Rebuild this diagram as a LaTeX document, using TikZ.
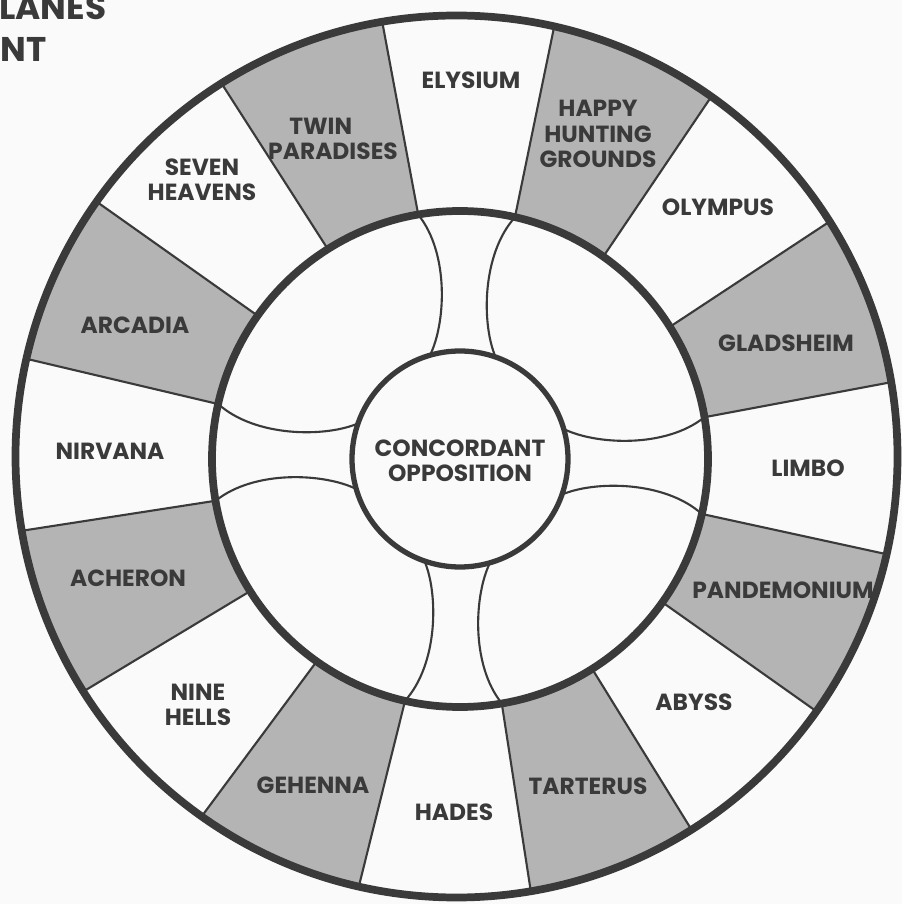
\documentclass[tikz,border=0pt]{standalone}
\usepackage{fontspec}
\setmainfont{Poppins}
\usetikzlibrary{calc}
\definecolor{ink}{RGB}{58,58,58}
\definecolor{shadecol}{RGB}{180,180,180}
\definecolor{paper}{RGB}{250,250,250}
\begin{document}
\begin{tikzpicture}[x=0.02cm,y=0.02cm,
  lab/.style={font=\bfseries\fontsize{13.3}{14.4}\selectfont, text=ink, align=center, inner sep=0pt},
  ttl/.style={font=\bfseries\fontsize{19.5}{20}\selectfont, text=ink, inner sep=0pt},
  thinline/.style={draw=ink, line width=1.2pt},
  ring/.style={draw=ink, line width=4.4pt},
  corering/.style={draw=ink, line width=3pt}]
\useasboundingbox (0,0) rectangle (902,904);
\fill[paper] (0,0) rectangle (902,904);
\def\Ro{441}\def\Rm{248}\def\Ri{108}
\coordinate (O) at (456.5,447.5);
\coordinate (C) at (460,445);
% shaded sectors
\foreach \k in {0,2,...,14} {
  \pgfmathsetmacro\a{9.7+22.5*\k}
  \pgfmathsetmacro\b{\a+22.5}
  \fill[shadecol] ($(C)+(\a:\Rm)$) -- ($(O)+(\a:\Ro)$)
     arc[start angle=\a, end angle=\b, radius=\Ro]
     -- ($(C)+(\b:\Rm)$) arc[start angle=\b, end angle=\a, radius=\Rm] -- cycle;
}
% dividers
\foreach \k in {0,...,15} {
  \pgfmathsetmacro\a{9.7+22.5*\k}
  \draw[thinline] ($(C)+(\a:\Rm)$) -- ($(O)+(\a:\Ro)$);
}
% arms
\foreach \ax in {88.45,-1.55,-91.55,178.45} {
  \begin{scope}[shift={(C)}, rotate=\ax]
    \draw[thinline] (243.2,48.4) .. controls (205,16) and (135,18) .. (102.9,32.8);
    \draw[thinline] (243.2,-48.4) .. controls (205,-16) and (135,-18) .. (102.9,-32.8);
  \end{scope}
}
% circles
\draw[ring] (O) circle[radius=\Ro];
\draw[ring] (C) circle[radius=\Rm];
\draw[corering] (C) circle[radius=\Ri];
% labels
\node[lab] (elysium) at (471,824) {ELYSIUM};
\node[lab] (hhg) at (598,770) {HAPPY\\HUNTING\\GROUNDS};
\node[lab] (olympus) at (718,697) {OLYMPUS};
\node[lab] (gladsheim) at (786,561) {GLADSHEIM};
\node[lab] (limbo) at (808,436) {LIMBO};
\node[lab] (pandemonium) at (783,314) {PANDEMONIUM};
\node[lab] (abyss) at (694,202) {ABYSS};
\node[lab] (tarterus) at (588,118) {TARTERUS};
\node[lab] (hades) at (454,92) {HADES};
\node[lab] (gehenna) at (313,119) {GEHENNA};
\node[lab] (ninehells) at (198,199) {NINE\\HELLS};
\node[lab] (acheron) at (128,326) {ACHERON};
\node[lab] (nirvana) at (110,453) {NIRVANA};
\node[lab] (arcadia) at (135,579) {ARCADIA};
\node[lab] (seven) at (202,724) {SEVEN\\HEAVENS};
\node[lab] (twin) at (333,765) {TWIN\hspace*{14pt}\\PARADISES};
\node[lab] (center) at (460,443) {CONCORDANT\\OPPOSITION};
% title fragments
\node[ttl, anchor=base west] (t1) at (-1,884) {LANES};
\node[ttl, anchor=base west] (t2) at (0,842) {NT};
\end{tikzpicture}
\end{document}
